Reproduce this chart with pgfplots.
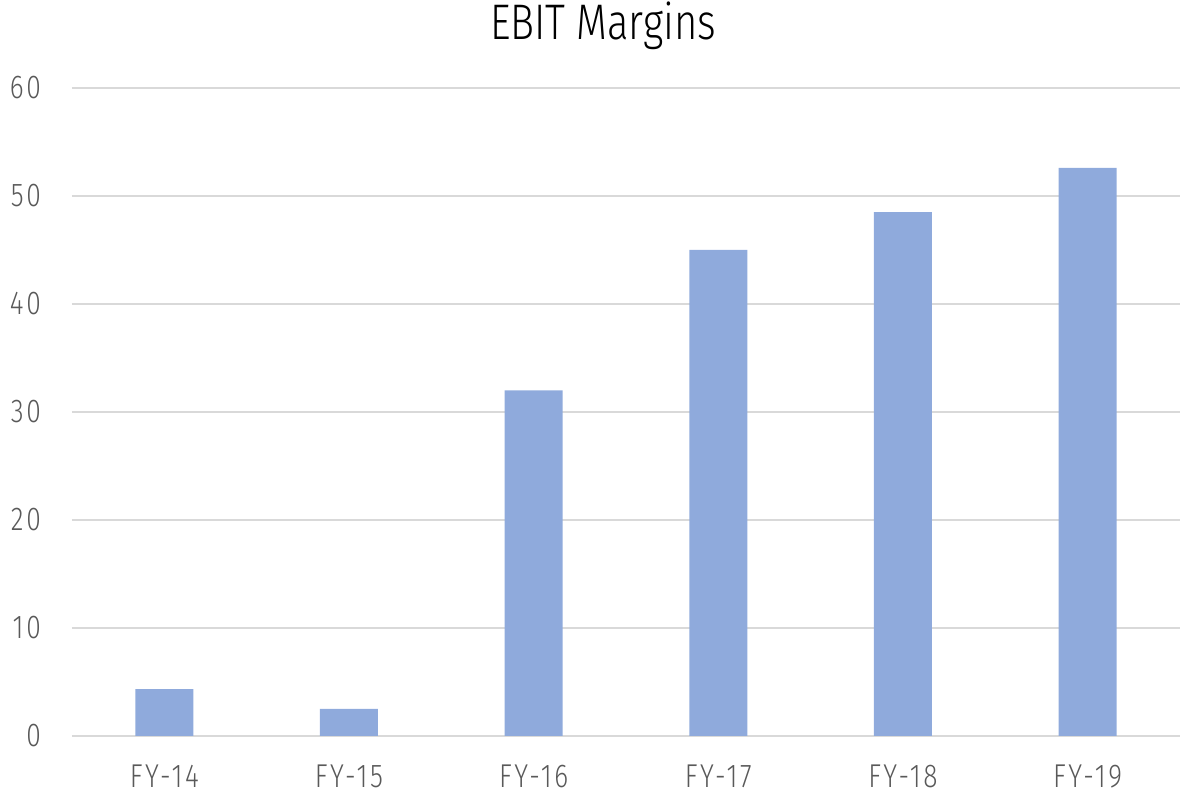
\documentclass[border=0pt]{standalone}
\usepackage{fontspec}
\setmainfont{Fira Sans Light}[FakeStretch=0.8]
\newfontfamily\tickfont{Fira Sans Light}[FakeStretch=0.8, LetterSpace=8]
\usepackage{pgfplots}
\pgfplotsset{compat=1.18}
\definecolor{barblue}{HTML}{8FAADC}
\definecolor{txtgray}{HTML}{595959}
\definecolor{gridgray}{HTML}{D9D9D9}
\begin{document}
\begin{tikzpicture}
\begin{axis}[
  name=ax,
  scale only axis,
  width=1108pt, height=648pt,
  xmin=-0.5, xmax=5.5,
  ymin=0, ymax=60,
  ytick={0,10,...,60},
  xtick={0,...,5},
  xticklabels={FY-14,FY-15,FY-16,FY-17,FY-18,FY-19},
  axis line style={draw=none},
  axis x line*=bottom,
  x axis line style={draw=gridgray, line width=2pt},
  ymajorgrids,
  grid style={draw=gridgray, line width=1.6pt},
  major tick length=0pt,
  tick style={draw=none},
  ticklabel style={font=\tickfont\fontsize{33}{33}\selectfont, text=txtgray},
  /pgf/number format/assume math mode=true,
  yticklabel style={anchor=east, inner sep=0pt, xshift=-31pt},
  xticklabel style={anchor=north, inner sep=0pt, yshift=-29pt},
  title={EBIT Margins},
  title style={font=\fontsize{50}{50}\selectfont, text=black, anchor=south, yshift=32pt, xshift=-23pt, inner sep=0pt},
  ybar, bar width=58pt,
]
\addplot[fill=barblue, draw=none] coordinates {(0,4.35) (1,2.5) (2,32.0) (3,45.0) (4,48.5) (5,52.6)};
\end{axis}
\pgfresetboundingbox
\path (ax.south west) ++(-72pt,-64pt) rectangle ++(1184pt,800pt);
\end{tikzpicture}
\end{document}
